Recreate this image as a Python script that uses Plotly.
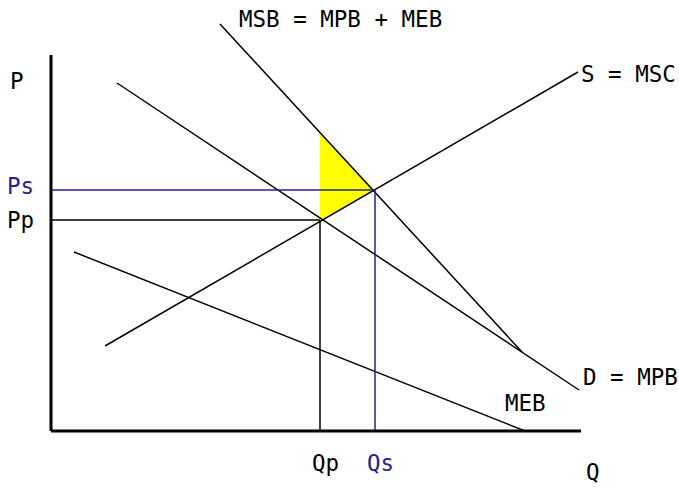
import plotly.graph_objects as go

# Curves (Q, P) endpoints
d_q = [6.6, 52.8]
d_p = [34.8, 4.1]
s_q = [5.4, 52.7]
s_p = [8.5, 35.9]
msb_q = [16.9, 47.1]
msb_p = [40.7, 7.9]
meb_q = [2.3, 47.4]
meb_p = [17.9, 0.0]

# Equilibria
qp, pp = 26.9, 21.1
qs, ps = 32.4, 24.1
msb_at_qp = 29.8

# Axis lengths
q_max = 53.0
p_max = 37.6

W, H = 679, 488
x_range = [-5.1, 62.8]
y_range = [-5.7, 43.1]

BLUE = "#23238c"
FONT = "DejaVu Sans Mono"

fig = go.Figure()

# welfare-gain triangle
fig.add_trace(go.Scatter(x=[qp, qp, qs, qp], y=[msb_at_qp, pp, ps, msb_at_qp],
                         mode="lines", fill="toself", fillcolor="#ffff00",
                         line=dict(width=0), hoverinfo="skip"))

def seg(x, y, color="black", width=1.5):
    fig.add_trace(go.Scatter(x=x, y=y, mode="lines",
                             line=dict(color=color, width=width), hoverinfo="skip"))

seg(d_q, d_p)
seg(s_q, s_p)
seg(msb_q, msb_p)
seg(meb_q, meb_p)
# price / quantity guides
seg([0, qs], [ps, ps], BLUE)
seg([qs, qs], [0, ps], BLUE)
seg([0, qp], [pp, pp])
seg([qp, qp], [0, pp])
# axes
seg([0, 0], [0, p_max], width=3)
seg([0, q_max], [0, 0], width=3)

def lab(text, px, py, color="black"):
    fig.add_annotation(x=px / W, y=1 - py / H, xref="paper", yref="paper",
                       text=text, showarrow=False, xanchor="center", yanchor="middle",
                       font=dict(family=FONT, size=22.5, color=color))

lab("P", 17, 81)
lab("Ps", 20, 186, BLUE)
lab("Pp", 20, 220)
lab("Qp", 325, 463)
lab("Qs", 380, 463, BLUE)
lab("Q", 593, 472)
lab("MSB = MPB + MEB", 340, 19)
lab("S = MSC", 628, 74)
lab("D = MPB", 630, 377)
lab("MEB", 525, 403)

fig.update_layout(width=W, height=H, margin=dict(l=0, r=0, t=0, b=0),
                  paper_bgcolor="white", plot_bgcolor="white", showlegend=False,
                  xaxis=dict(range=x_range, visible=False, fixedrange=True),
                  yaxis=dict(range=y_range, visible=False, fixedrange=True))

fig.write_html("out.html", config={"displayModeBar": False},
               post_script="document.body.style.margin='0';document.body.style.overflow='hidden';")
